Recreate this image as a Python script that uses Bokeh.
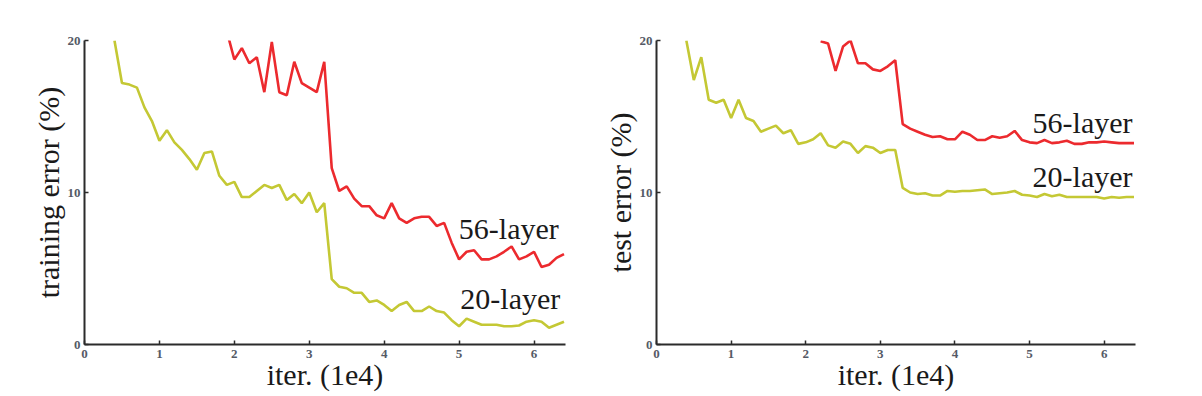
from bokeh.plotting import figure
from bokeh.models import Range1d, FixedTicker, Label
from bokeh.layouts import row
from bokeh.embed import file_html
from bokeh.resources import INLINE

# ---------------- data ----------------
iters_20 = [round(0.4 + 0.1 * i, 1) for i in range(61)]  # 0.4 .. 6.4 (1e4 iterations)

train_20 = [20.0, 17.2, 17.1, 16.9, 15.6, 14.7, 13.4, 14.1, 13.3, 12.8,
            12.2, 11.5, 12.6, 12.7, 11.1, 10.5, 10.7, 9.7, 9.7, 10.1,
            10.5, 10.3, 10.5, 9.5, 9.9, 9.3, 10.0, 8.7, 9.3, 4.3,
            3.8, 3.7, 3.4, 3.4, 2.8, 2.9, 2.6, 2.2, 2.6, 2.8,
            2.2, 2.2, 2.5, 2.2, 2.1, 1.6, 1.2, 1.7, 1.5, 1.3,
            1.3, 1.3, 1.2, 1.2, 1.25, 1.5, 1.6, 1.5, 1.1, 1.3,
            1.5]

iters_56_train = [round(1.9 + 0.1 * i, 1) for i in range(46)]  # 1.9 .. 6.4
train_56 = [20.6, 18.75, 19.5, 18.5, 18.9, 16.6, 19.9, 16.6, 16.4, 18.6,
            17.2, 16.9, 16.6, 18.6, 11.6, 10.1, 10.4, 9.6, 9.1, 9.1,
            8.5, 8.3, 9.3, 8.3, 8.0, 8.3, 8.4, 8.4, 7.8, 8.0,
            6.7, 5.6, 6.1, 6.2, 5.6, 5.6, 5.8, 6.1, 6.45, 5.6,
            5.8, 6.1, 5.1, 5.25, 5.7, 5.95]

test_20 = [20.0, 17.4, 18.9, 16.1, 15.9, 16.1, 14.9, 16.1, 14.9, 14.7,
           14.0, 14.2, 14.4, 13.9, 14.1, 13.2, 13.3, 13.5, 13.9, 13.1,
           12.95, 13.35, 13.2, 12.6, 13.05, 12.95, 12.6, 12.8, 12.8, 10.3,
           10.0, 9.9, 9.95, 9.8, 9.8, 10.1, 10.05, 10.1, 10.1, 10.15,
           10.2, 9.9, 9.95, 10.0, 10.1, 9.85, 9.8, 9.7, 9.9, 9.75,
           9.85, 9.7, 9.7, 9.7, 9.7, 9.7, 9.6, 9.7, 9.65, 9.7,
           9.7]

iters_56_test = [round(2.2 + 0.1 * i, 1) for i in range(43)]  # 2.2 .. 6.4
test_56 = [19.95, 19.8, 18.0, 19.6, 20.0, 18.5, 18.5, 18.1, 18.0, 18.3,
           18.7, 14.5, 14.2, 14.0, 13.8, 13.65, 13.7, 13.5, 13.5, 14.0,
           13.8, 13.45, 13.45, 13.7, 13.6, 13.7, 14.05, 13.45, 13.3, 13.25,
           13.45, 13.25, 13.3, 13.4, 13.2, 13.2, 13.3, 13.3, 13.35, 13.3,
           13.25, 13.25, 13.25]

x_ticks = [0, 1, 2, 3, 4, 5, 6]
y_ticks = [0, 10, 20]
series_names = ["56-layer", "20-layer"]

RED = "#ec2a2e"
GREEN = "#c4c834"
SERIF = "Liberation Serif"


def make_panel(ylabel, x20, y20, x56, y56, lab56, lab20, width, bl, br):
    p = figure(width=width, height=396, output_backend="svg", toolbar_location=None,
               x_range=Range1d(0, 6.42), y_range=Range1d(0, 20),
               min_border_left=bl, min_border_right=br,
               min_border_top=40, min_border_bottom=52)
    p.outline_line_color = None
    p.grid.visible = False
    p.background_fill_color = "white"
    p.border_fill_color = "white"

    p.line(x20, y20, line_color=GREEN, line_width=2.6)
    p.line(x56, y56, line_color=RED, line_width=2.6)

    p.xaxis.ticker = FixedTicker(ticks=x_ticks)
    p.yaxis.ticker = FixedTicker(ticks=y_ticks)
    for ax in (p.xaxis, p.yaxis):
        ax.axis_line_color = "#2b2b2b"
        ax.axis_line_width = 2
        ax.major_tick_line_color = "#2b2b2b"
        ax.major_tick_line_width = 1.5
        ax.major_tick_in = 4
        ax.major_tick_out = 0
        ax.minor_tick_line_color = None
        ax.major_label_text_font = SERIF
        ax.major_label_text_font_size = "13px"
        ax.major_label_text_color = "#555a66"
        ax.major_label_text_font_style = "bold"
        ax.axis_label_text_font = SERIF
        ax.axis_label_text_font_size = "30px"
        ax.axis_label_text_font_style = "normal"
        ax.axis_label_text_color = "#1a1a1a"
    p.xaxis.axis_label = "iter. (1e4)"
    p.yaxis.axis_label = ylabel
    p.xaxis.major_label_standoff = 5
    p.xaxis.axis_label_standoff = -3
    p.yaxis.major_label_standoff = 4
    p.yaxis.axis_label_standoff = 0

    for (lx, ly), txt in zip((lab56, lab20), series_names):
        p.add_layout(Label(x=lx, y=ly, text=txt, text_align="right",
                           text_baseline="middle", text_font=SERIF,
                           text_font_size="30px", text_color="#1a1a1a"))
    return p


p1 = make_panel("training error (%)", iters_20, train_20, iters_56_train, train_56,
                (6.33, 7.6), (6.35, 3.0), 600, 84, 35)
p2 = make_panel("test error (%)", iters_20, test_20, iters_56_test, test_56,
                (6.38, 14.6), (6.38, 11.05), 594, 56, 59)

layout = row(p1, p2)
open("out.html", "w").write(file_html(layout, INLINE))
